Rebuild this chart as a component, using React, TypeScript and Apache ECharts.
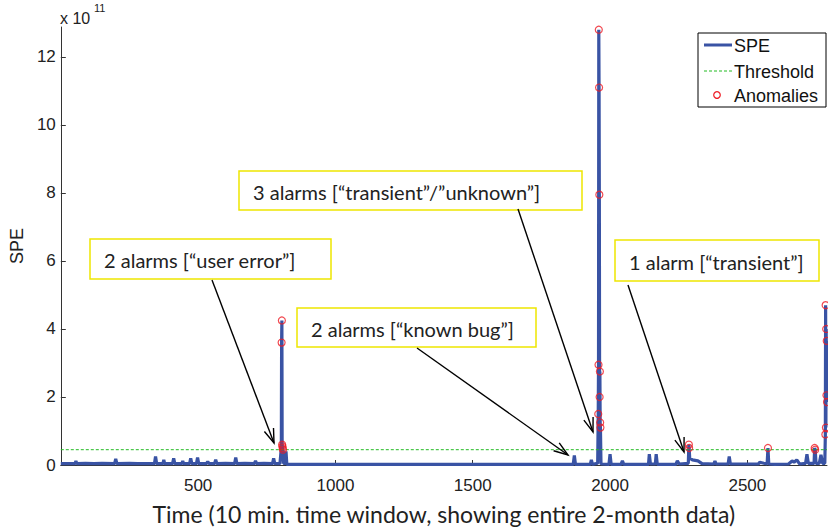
import React, { useEffect, useRef } from "react";
import * as echarts from "echarts";

// SPE values in units of 1e11
const speTimes = [
  0, 30, 52, 55, 58, 90, 120, 150, 196, 200, 204, 250, 280, 300, 341, 345, 349, 372, 375, 378,
  407, 411, 415, 441, 444, 447, 469, 473, 477, 494, 498, 502, 530, 535, 540, 560, 564, 568,
  600, 633, 637, 641, 670, 705, 709, 713, 740, 771, 775, 779, 798,
  803, 804, 805, 806, 807, 808, 809, 811, 818, 820, 823,
  1000, 1500, 1866, 1870, 1874, 1928, 1932, 1936,
  1955, 1957, 1958, 1959, 1960, 1961, 1962, 1963, 1964, 1965, 1967,
  1996, 2000, 2004, 2040, 2045, 2050, 2140, 2143, 2147, 2165, 2168, 2172, 2240, 2245, 2252,
  2285, 2287, 2288, 2290, 2300, 2320, 2335, 2378, 2382, 2386, 2430, 2434, 2438, 2500,
  2540, 2545, 2560, 2572, 2575, 2578, 2600, 2650, 2663, 2670, 2680, 2690,
  2712, 2717, 2722, 2743, 2745, 2747, 2750, 2762, 2768, 2774,
  2782, 2784, 2785, 2786, 2787, 2788, 2789, 2790,
];
const speValues = [
  0.04, 0.04, 0.04, 0.12, 0.04, 0.05, 0.04, 0.05, 0.04, 0.18, 0.04, 0.05, 0.04, 0.04, 0.04, 0.25, 0.04, 0.04, 0.15, 0.04,
  0.04, 0.2, 0.04, 0.04, 0.12, 0.04, 0.04, 0.2, 0.04, 0.04, 0.22, 0.04, 0.04, 0.1, 0.04, 0.04, 0.16, 0.04,
  0.05, 0.04, 0.22, 0.04, 0.05, 0.04, 0.12, 0.04, 0.05, 0.04, 0.2, 0.04, 0.04,
  0.5, 3.6, 4.25, 0.6, 0.55, 0.5, 0.45, 0.05, 0.05, 0.4, 0.02,
  0.02, 0.02, 0.02, 0.28, 0.02, 0.02, 0.15, 0.02,
  0.05, 1.5, 2.95, 12.8, 11.1, 7.95, 2.0, 2.75, 1.25, 1.1, 0.03,
  0.02, 0.32, 0.02, 0.02, 0.12, 0.02, 0.02, 0.32, 0.03, 0.03, 0.32, 0.02, 0.02, 0.12, 0.03,
  0.05, 0.6, 0.5, 0.2, 0.15, 0.12, 0.04, 0.03, 0.12, 0.03, 0.03, 0.25, 0.03, 0.03,
  0.03, 0.08, 0.05, 0.03, 0.5, 0.03, 0.02, 0.03, 0.12, 0.08, 0.15, 0.03,
  0.05, 0.32, 0.05, 0.05, 0.5, 0.45, 0.05, 0.05, 0.3, 0.05,
  0.05, 0.9, 4.7, 1.1, 4.0, 2.05, 3.65, 1.85,
];

const anomalyTimes = [
  804, 805, 806, 807, 808, 809,
  1957, 1958, 1959, 1960, 1961, 1962, 1963, 1964, 1965,
  2287, 2288, 2575, 2745, 2747,
  2784, 2785, 2786, 2787, 2788, 2789, 2790,
];
const anomalyValues = [
  3.6, 4.25, 0.6, 0.55, 0.5, 0.45,
  1.5, 2.95, 12.8, 11.1, 7.95, 2.0, 2.75, 1.25, 1.1,
  0.6, 0.5, 0.5, 0.5, 0.45,
  0.9, 4.7, 1.1, 4.0, 2.05, 3.65, 1.85,
];

const thresholdValue = 0.45;
const xRange = [0, 2790];
const yRange = [0, 12.88];
const yTickStep = 2;
const xTickStep = 500;

const annotations = [
  { text: "2 alarms [“user error”]", box: [90, 239, 241, 40], from: [212, 280], to: [274, 443] },
  { text: "2 alarms [“known bug”]", box: [297, 308, 239, 39], from: [417, 348], to: [568, 455] },
  { text: "3 alarms [“transient”/”unknown”]", box: [239, 171, 343, 39], from: [518, 209], to: [593, 432] },
  { text: "1 alarm [“transient”]", box: [615, 240, 204, 41], from: [628, 285], to: [684, 452] },
];

const BLUE = "#3953a4";
const GREEN = "#22bb22";
const RED = "#ee1c24";
const ARIAL = "'Liberation Sans', Arial, sans-serif";
const CAL = "Lato, 'Open Sans', sans-serif";

function arrow(from: number[], to: number[]) {
  const ang = Math.atan2(to[1] - from[1], to[0] - from[0]);
  const L = 15;
  const a = 0.33;
  const p1 = [to[0] - L * Math.cos(ang - a), to[1] - L * Math.sin(ang - a)];
  const p2 = [to[0] - L * Math.cos(ang + a), to[1] - L * Math.sin(ang + a)];
  return [
    { type: "line", shape: { x1: from[0], y1: from[1], x2: to[0], y2: to[1] }, style: { stroke: "#000", lineWidth: 1.4 }, z: 100 },
    { type: "polyline", shape: { points: [p1, to, p2] }, style: { stroke: "#000", lineWidth: 1.4, fill: null }, z: 100 },
  ];
}

export default function App() {
  const ref = useRef<HTMLDivElement>(null);
  useEffect(() => {
    if (!ref.current) return;
    const chart = echarts.init(ref.current, undefined, { renderer: "svg" });
    const speData = speTimes.map((t, i) => [t, speValues[i]]);
    const anomalyData = anomalyTimes.map((t, i) => [t, anomalyValues[i]]);

    const graphics: any[] = [];
    annotations.forEach((a) => {
      graphics.push({
        type: "rect",
        shape: { x: a.box[0], y: a.box[1], width: a.box[2], height: a.box[3] },
        style: { fill: "#fff", stroke: "#eee600", lineWidth: 1.5 },
        z: 100,
      });
      graphics.push({
        type: "text",
        x: a.box[0] + 14,
        y: a.box[1] + a.box[3] / 2 + 1,
        style: { text: a.text, font: `20px ${CAL}`, fill: "#222", verticalAlign: "middle", align: "left" },
        z: 101,
      });
      graphics.push(...arrow(a.from, a.to));
    });
    // legend
    graphics.push(
      { type: "rect", shape: { x: 698, y: 33, width: 128, height: 74 }, style: { fill: "#fff", stroke: "#000", lineWidth: 1 }, z: 100 },
      { type: "line", shape: { x1: 704, y1: 45, x2: 732, y2: 45 }, style: { stroke: BLUE, lineWidth: 3 }, z: 101 },
      { type: "text", x: 734, y: 46, style: { text: "SPE", font: `18px ${ARIAL}`, fill: "#111", verticalAlign: "middle" }, z: 101 },
      { type: "line", shape: { x1: 704, y1: 71, x2: 732, y2: 71 }, style: { stroke: GREEN, lineWidth: 1, lineDash: [3, 2] }, z: 101 },
      { type: "text", x: 734, y: 72, style: { text: "Threshold", font: `18px ${ARIAL}`, fill: "#111", verticalAlign: "middle" }, z: 101 },
      { type: "circle", shape: { cx: 717, cy: 95, r: 3.3 }, style: { stroke: RED, fill: null, lineWidth: 1.2 }, z: 101 },
      { type: "text", x: 734, y: 96, style: { text: "Anomalies", font: `18px ${ARIAL}`, fill: "#111", verticalAlign: "middle" }, z: 101 },
      { type: "text", x: 60, y: 18, style: { text: "x 10", font: `16px ${ARIAL}`, fill: "#222", verticalAlign: "middle" }, z: 101 },
      { type: "text", x: 94, y: 8, style: { text: "11", font: `11px ${ARIAL}`, fill: "#222", verticalAlign: "middle" }, z: 101 },
    );

    chart.setOption({
      animation: false,
      backgroundColor: "#fff",
      grid: { left: 60, right: 1, top: 27, bottom: 66, containLabel: false },
      xAxis: {
        type: "value",
        min: xRange[0],
        max: xRange[1],
        interval: xTickStep,
        name: "Time (10 min. time window, showing entire 2-month data)",
        nameLocation: "middle",
        nameGap: 37,
        nameTextStyle: { fontFamily: CAL, fontSize: 23, color: "#222" },
        axisLine: { lineStyle: { color: "#333", width: 1 } },
        axisTick: { inside: true, length: 5, lineStyle: { color: "#333" } },
        axisLabel: {
          fontFamily: ARIAL, fontSize: 17, color: "#222", margin: 12,
          showMinLabel: false, showMaxLabel: false,
          formatter: (v: number) => (v === 0 ? "" : String(v)),
        },
        splitLine: { show: false },
      },
      yAxis: {
        type: "value",
        min: yRange[0],
        max: yRange[1],
        interval: yTickStep,
        name: "SPE",
        nameLocation: "middle",
        nameGap: 30,
        nameRotate: 90,
        nameTextStyle: { fontFamily: ARIAL, fontSize: 18, color: "#222" },
        axisLine: { show: true, lineStyle: { color: "#333", width: 1 } },
        axisTick: { show: true, inside: true, length: 5, lineStyle: { color: "#333" } },
        axisLabel: { fontFamily: ARIAL, fontSize: 17, color: "#222", margin: 5, showMaxLabel: false },
        splitLine: { show: false },
      },
      series: [
        {
          name: "SPE",
          type: "line",
          data: speData,
          showSymbol: false,
          symbol: "none",
          lineStyle: { color: BLUE, width: 3.2 },
          z: 2,
        },
        {
          name: "Threshold",
          type: "line",
          data: [[xRange[0], thresholdValue], [xRange[1], thresholdValue]],
          symbol: "none",
          lineStyle: { color: GREEN, width: 1, type: [3, 2] },
          z: 3,
        },
        {
          name: "Anomalies",
          type: "scatter",
          data: anomalyData,
          symbol: "circle",
          symbolSize: 7,
          itemStyle: { color: "rgba(0,0,0,0)", borderColor: RED, borderWidth: 1.2 },
          clip: false,
          z: 4,
        },
      ],
      graphic: graphics,
    });
    return () => chart.dispose();
  }, []);
  return <div ref={ref} style={{ width: 828, height: 531, position: "absolute", left: 0, top: 0 }} />;
}
